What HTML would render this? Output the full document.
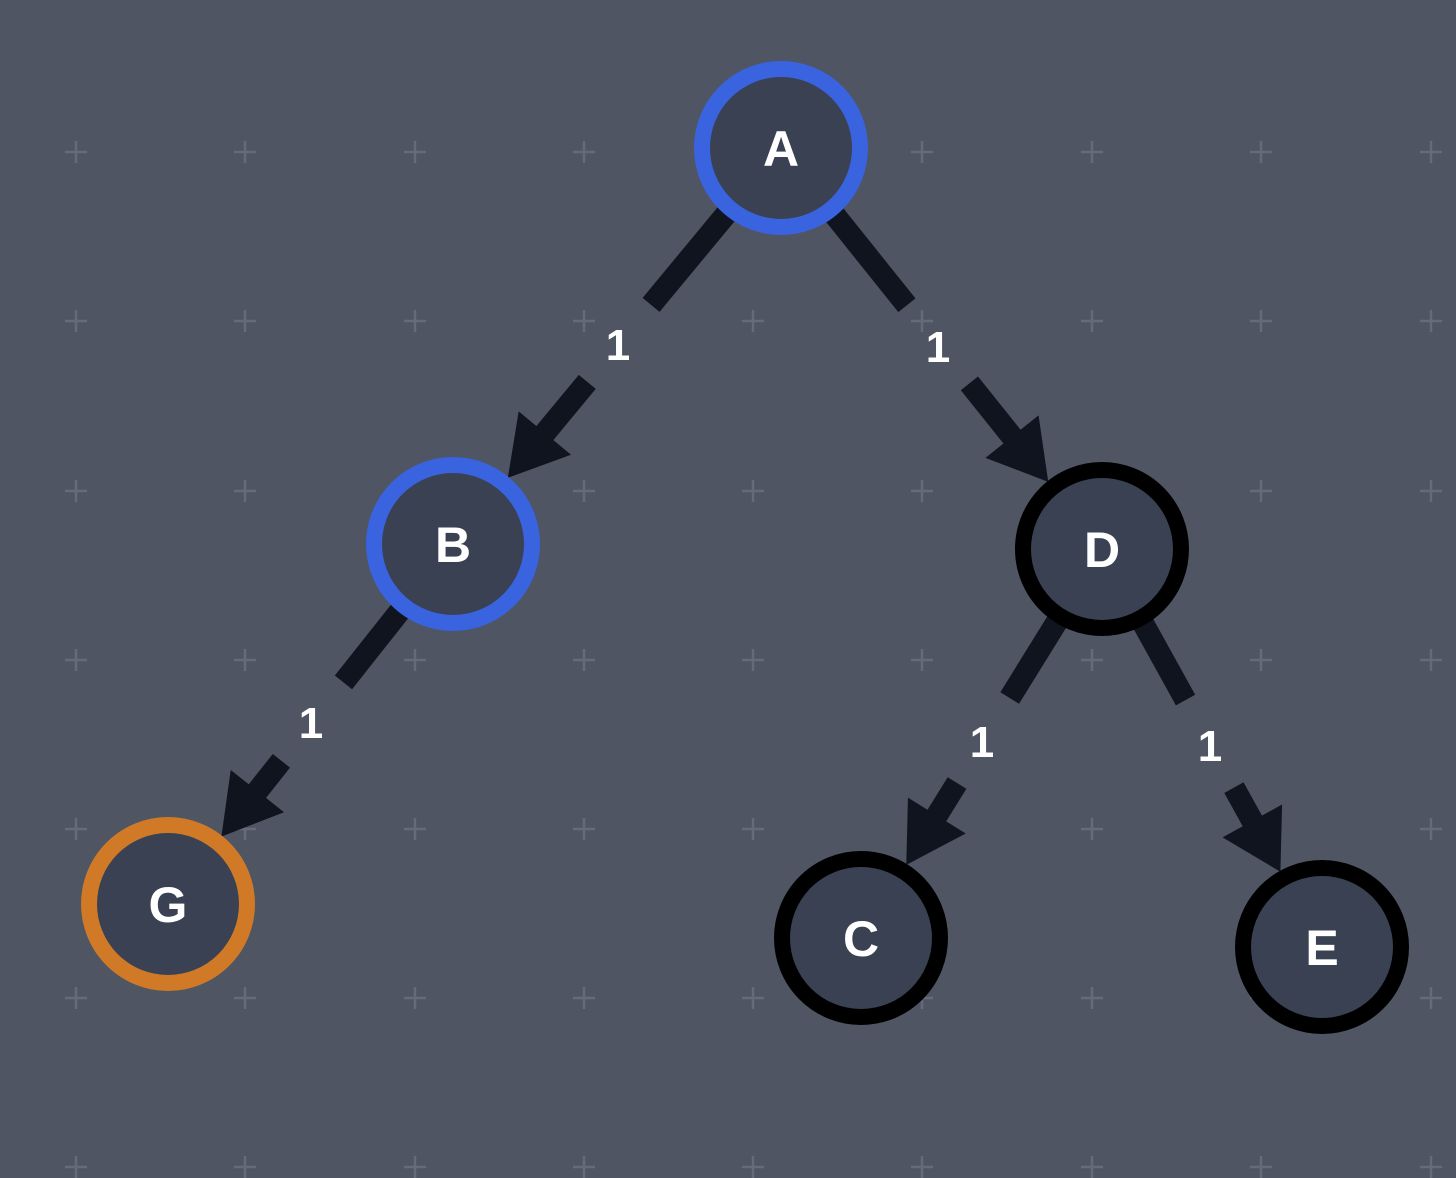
<!DOCTYPE html>
<html><head><meta charset="utf-8"><style>
html,body{margin:0;padding:0;background:#4f5562;}
svg{display:block}
</style></head><body>
<svg id="s" width="1456" height="1178" xmlns="http://www.w3.org/2000/svg">
<rect width="1456" height="1178" fill="#4f5562"/>
<g id="grid" stroke="#656b78" stroke-width="2.5"></g>
<g id="edges"></g>
<g id="nodes" font-family="Liberation Sans, sans-serif" font-weight="bold" font-size="50" text-anchor="middle" fill="#fff"></g>
</svg>
<script>
var NS="http://www.w3.org/2000/svg";
function el(t,a,p){var e=document.createElementNS(NS,t);for(var k in a)e.setAttribute(k,a[k]);p.appendChild(e);return e;}
var grid=document.getElementById('grid');
var xs=[76,245,415,584,753,922,1092,1261,1431],ys=[152,321,491,660,829,998,1167];
xs.forEach(function(x){ys.forEach(function(y){el('path',{d:'M'+(x-11)+' '+y+'H'+(x+11)+'M'+x+' '+(y-11)+'V'+(y+11)},grid);});});
var N={A:[781,148,'#3a63e0'],B:[453,544,'#3a63e0'],D:[1102,549,'#000'],G:[168,904,'#d07a28'],C:[861,938,'#000'],E:[1322,947,'#000']};
var E=[['A','B',618,345],['A','D',938,347],['B','G',311,723],['D','C',982,742],['D','E',1210,746]];
var eg=document.getElementById('edges');
E.forEach(function(e){
 var a=N[e[0]],b=N[e[1]];var dx=b[0]-a[0],dy=b[1]-a[1],L=Math.hypot(dx,dy),ux=dx/L,uy=dy/L;
 var px=-uy,py=ux;
 var tl=(e[2]-a[0])*ux+(e[3]-a[1])*uy;
 function P(t){return [a[0]+ux*t,a[1]+uy*t];}
 var s=P(78),m1=P(tl-52),m2=P(tl+48),tipT=L-86,tip=P(tipT),base=P(tipT-58);
 el('line',{x1:s[0],y1:s[1],x2:m1[0],y2:m1[1],stroke:'#10141e','stroke-width':22},eg);
 el('line',{x1:m2[0],y1:m2[1],x2:base[0]+ux*5,y2:base[1]+uy*5,stroke:'#10141e','stroke-width':22},eg);
 el('polygon',{points:tip[0]+','+tip[1]+' '+(base[0]+px*34)+','+(base[1]+py*34)+' '+(base[0]-px*34)+','+(base[1]-py*34),fill:'#10141e'},eg);
 var t=el('text',{x:e[2],y:e[3]+15,'font-family':'Liberation Sans, sans-serif','font-weight':'bold','font-size':44,'text-anchor':'middle',fill:'#fff'},eg);t.textContent='1';
});
var ng=document.getElementById('nodes');
for(var k in N){var n=N[k];
 el('circle',{cx:n[0],cy:n[1],r:79,fill:'#3a4152',stroke:n[2],'stroke-width':16},ng);
 var t=el('text',{x:n[0],y:n[1]+18},ng);t.textContent=k;}
</script>
</body></html>
